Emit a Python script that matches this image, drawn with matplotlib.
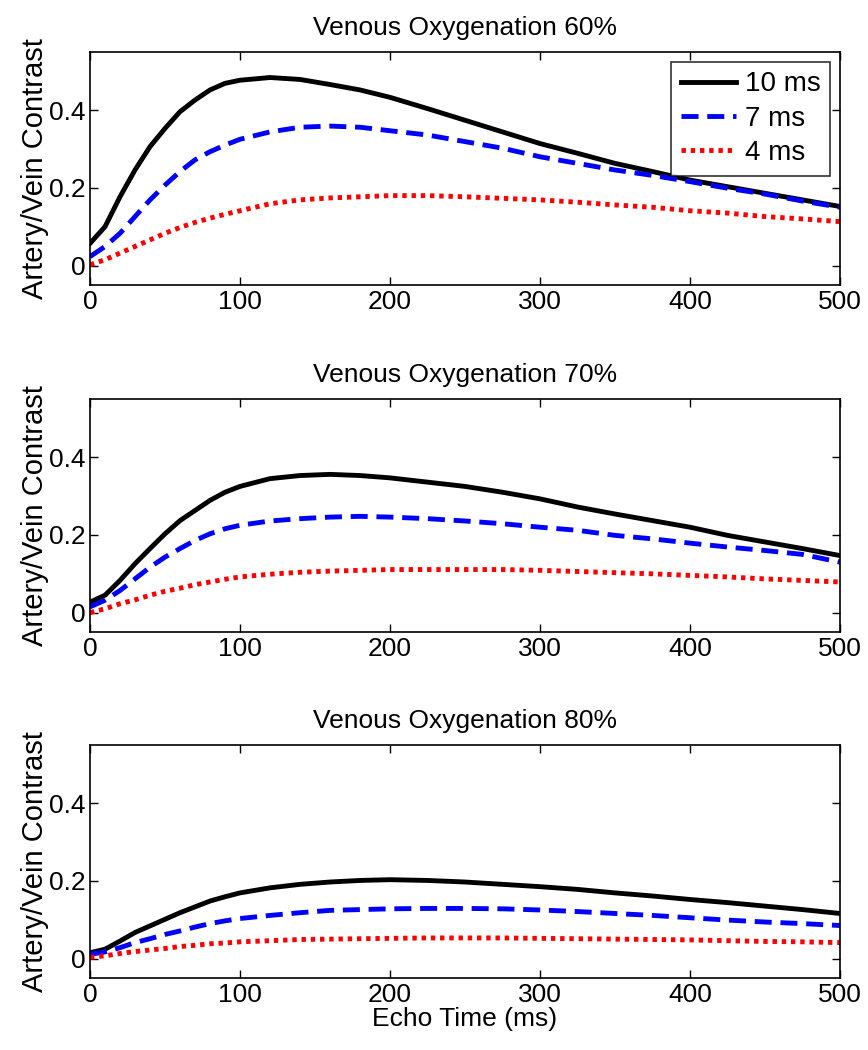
import numpy as np
import matplotlib
matplotlib.use("Agg")
import matplotlib.pyplot as plt

plt.rcParams['font.family'] = ['Liberation Sans', 'DejaVu Sans']

# echo time (ms)
te = [0, 10, 20, 30, 40, 50, 60, 70, 80, 90, 100, 120, 140, 160, 180, 200,
      225, 250, 275, 300, 325, 350, 375, 400, 425, 450, 475, 500]

# Venous oxygenation 60%
v60_10 = [0.057, 0.100, 0.177, 0.246, 0.306, 0.353, 0.396, 0.426, 0.452, 0.469, 0.477,
          0.484, 0.479, 0.466, 0.452, 0.433, 0.404, 0.374, 0.344, 0.314, 0.289, 0.263,
          0.242, 0.220, 0.203, 0.186, 0.169, 0.152]
v60_7 = [0.023, 0.049, 0.083, 0.126, 0.169, 0.207, 0.242, 0.272, 0.293, 0.310, 0.325,
         0.344, 0.356, 0.359, 0.356, 0.347, 0.336, 0.319, 0.302, 0.280, 0.263, 0.246,
         0.232, 0.216, 0.199, 0.184, 0.166, 0.150]
v60_4 = [0.002, 0.015, 0.032, 0.049, 0.066, 0.083, 0.098, 0.111, 0.122, 0.132, 0.141,
         0.159, 0.169, 0.174, 0.177, 0.180, 0.180, 0.177, 0.173, 0.169, 0.163, 0.156,
         0.150, 0.141, 0.135, 0.126, 0.120, 0.113]

# Venous oxygenation 70%
v70_10 = [0.027, 0.045, 0.083, 0.126, 0.165, 0.203, 0.237, 0.263, 0.289, 0.310, 0.325,
          0.345, 0.353, 0.356, 0.353, 0.347, 0.336, 0.325, 0.310, 0.293, 0.272, 0.254,
          0.237, 0.220, 0.199, 0.182, 0.165, 0.147]
v70_7 = [0.015, 0.032, 0.057, 0.087, 0.117, 0.143, 0.165, 0.186, 0.203, 0.216, 0.225,
         0.236, 0.242, 0.246, 0.248, 0.246, 0.242, 0.236, 0.229, 0.220, 0.212, 0.199,
         0.190, 0.179, 0.169, 0.160, 0.150, 0.130]
v70_4 = [0.000, 0.010, 0.023, 0.033, 0.045, 0.055, 0.063, 0.072, 0.079, 0.086, 0.092,
         0.099, 0.104, 0.107, 0.109, 0.111, 0.111, 0.111, 0.111, 0.109, 0.106, 0.103,
         0.100, 0.096, 0.092, 0.087, 0.083, 0.079]

# Venous oxygenation 80%
v80_10 = [0.015, 0.024, 0.045, 0.067, 0.084, 0.101, 0.118, 0.133, 0.148, 0.159, 0.169,
          0.182, 0.191, 0.197, 0.201, 0.203, 0.201, 0.197, 0.191, 0.185, 0.178, 0.169,
          0.161, 0.152, 0.144, 0.135, 0.126, 0.116]
v80_7 = [0.011, 0.017, 0.028, 0.041, 0.051, 0.062, 0.071, 0.081, 0.090, 0.097, 0.103,
         0.111, 0.118, 0.124, 0.126, 0.128, 0.129, 0.129, 0.128, 0.125, 0.121, 0.116,
         0.111, 0.105, 0.099, 0.094, 0.090, 0.085]
v80_4 = [0.003, 0.007, 0.013, 0.018, 0.022, 0.026, 0.031, 0.034, 0.038, 0.040, 0.043,
         0.046, 0.049, 0.050, 0.051, 0.052, 0.053, 0.053, 0.053, 0.052, 0.051, 0.050,
         0.049, 0.048, 0.046, 0.044, 0.043, 0.041]

titles = ['Venous Oxygenation 60%', 'Venous Oxygenation 70%', 'Venous Oxygenation 80%']
panels = [(v60_10, v60_7, v60_4), (v70_10, v70_7, v70_4), (v80_10, v80_7, v80_4)]
labels = ['10 ms', '7 ms', '4 ms']

fig = plt.figure(figsize=(8.68, 10.5), dpi=100)
bottoms = [0.7286, 0.398, 0.0686]
fs = 19

for i in range(3):
    ax = fig.add_axes([0.1037, bottoms[i], 0.864, 0.222])
    s10, s7, s4 = panels[i]
    ax.plot(te, s10, color='black', lw=3.5, label=labels[0])
    ax.plot(te, s7, color='#0000ff', lw=3.5, dashes=(3.5, 1.8), label=labels[1])
    ax.plot(te, s4, color='#ff0000', lw=3.5, dashes=(0.9, 1.0), label=labels[2])
    ax.set_xlim(0, 500)
    ax.set_ylim(-0.05, 0.55)
    ax.set_xticks([0, 100, 200, 300, 400, 500])
    ax.set_yticks([0, 0.2, 0.4])
    ax.set_yticklabels(['0', '0.2', '0.4'])
    ax.tick_params(direction='in', top=True, right=True, labelsize=fs, length=6, width=1)
    for sp in ax.spines.values():
        sp.set_linewidth(1.2)
    ax.set_title(titles[i], fontsize=fs, pad=12)
    ax.set_ylabel('Artery/Vein Contrast', fontsize=21, labelpad=0)
    if i == 0:
        leg = ax.legend(loc='upper right', fontsize=20, fancybox=False, edgecolor='black',
                        handlelength=2.0, handletextpad=0.3, borderpad=0.35,
                        labelspacing=0.3, borderaxespad=0.35)
        leg.get_frame().set_linewidth(1.2)
    if i == 2:
        ax.set_xlabel('Echo Time (ms)', fontsize=fs, labelpad=0)

fig.savefig('out.png', dpi=100)
